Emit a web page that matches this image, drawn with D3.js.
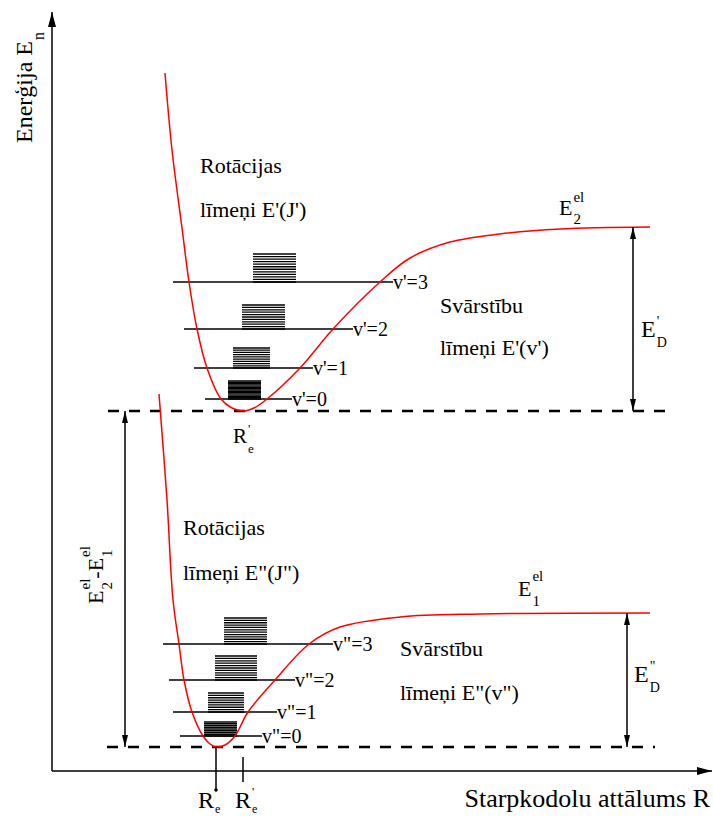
<!DOCTYPE html>
<html>
<head>
<meta charset="utf-8">
<script src="https://cdn.jsdelivr.net/npm/d3@7"></script>
</head>
<body style="margin:0;background:#fff">
<script>
// potential curves [R, E] (arbitrary units)
var upperPotential = [[2.30, 13.94], [2.44, 12.40], [2.64, 10.84], [2.78, 9.76], [2.94, 8.82],
    [3.14, 8.04], [3.42, 7.42], [3.64, 7.24], [3.86, 7.18], [4.08, 7.24], [4.34, 7.42],
    [5.00, 8.04], [5.66, 8.82], [6.60, 9.76], [7.20, 10.24], [8.00, 10.56], [9.00, 10.72],
    [10.20, 10.82], [12.00, 10.86]];
var lowerPotential = [[2.18, 7.52], [2.34, 5.40], [2.46, 3.40], [2.58, 2.52], [2.68, 1.80],
    [2.84, 1.16], [3.06, 0.68], [3.20, 0.52], [3.32, 0.46], [3.50, 0.50], [3.70, 0.68],
    [3.96, 1.16], [4.50, 1.80], [5.18, 2.52], [5.80, 2.86], [7.00, 3.06], [8.60, 3.12],
    [12.00, 3.14]];

var upperMinimum = {R: 3.86, E: 7.18};
var lowerMinimum = {R: 3.32, E: 0.46};
var upperLimit = 10.86;
var lowerLimit = 3.14;

// vibrational levels: energy and R extent of the line
var upperLevels = [{E: 7.42, r0: 3.10, r1: 4.84}, {E: 8.04, r0: 2.88, r1: 5.26},
    {E: 8.82, r0: 2.68, r1: 6.06}, {E: 9.76, r0: 2.46, r1: 6.86}];
var lowerLevels = [{E: 0.68, r0: 2.60, r1: 4.24}, {E: 1.16, r0: 2.46, r1: 4.54},
    {E: 1.80, r0: 2.38, r1: 4.90}, {E: 2.52, r0: 2.26, r1: 5.66}];
var upperLevelLabels = ["v'=0", "v'=1", "v'=2", "v'=3"];
var lowerLevelLabels = ['v"=0', 'v"=1', 'v"=2', 'v"=3'];

// rotational stacks on each vibrational level
var upperRotational = [{r0: 3.56, r1: 4.22, top: 7.78, lines: 15}, {r0: 3.66, r1: 4.40, top: 8.44, lines: 10},
    {r0: 3.84, r1: 4.70, top: 9.30, lines: 11}, {r0: 4.06, r1: 4.92, top: 10.32, lines: 12}];
var lowerRotational = [{r0: 3.08, r1: 3.74, top: 0.96, lines: 9}, {r0: 3.16, r1: 3.88, top: 1.54, lines: 9},
    {r0: 3.30, r1: 4.14, top: 2.28, lines: 11}, {r0: 3.48, r1: 4.34, top: 3.04, lines: 12}];

var serif = "'Liberation Serif', 'DejaVu Serif', 'Times New Roman', Times, serif";

function init(){
    var width = 713, height = 818;
    var svg = d3.select("body").append("svg")
        .attr("width", width)
        .attr("height", height)
        .attr("font-family", serif)
        .style("font-family", serif);

    var x = d3.scaleLinear().domain([0, 13.2]).range([50, 710]);
    var y = d3.scaleLinear().domain([0, 15.2]).range([770, 10]);

    var defs = svg.append("defs");
    defs.append("marker").attr("id", "head")
        .attr("viewBox", "0 0 12 6").attr("refX", 12).attr("refY", 3)
        .attr("markerWidth", 12).attr("markerHeight", 6)
        .attr("markerUnits", "userSpaceOnUse")
        .attr("orient", "auto-start-reverse")
        .append("path").attr("d", "M0,0 L12,3 L0,6 z").attr("fill", "#000");
    defs.append("marker").attr("id", "axhead")
        .attr("viewBox", "0 0 15 8").attr("refX", 15).attr("refY", 4)
        .attr("markerWidth", 15).attr("markerHeight", 8)
        .attr("markerUnits", "userSpaceOnUse")
        .attr("orient", "auto")
        .append("path").attr("d", "M0,0 L15,4 L0,8 z").attr("fill", "#000");

    // axes
    svg.append("line")
        .attr("x1", x(0.04)).attr("y1", y(-0.02))
        .attr("x2", x(0.04)).attr("y2", y(15.16))
        .attr("stroke", "#000").attr("stroke-width", 1.5)
        .attr("marker-end", "url(#axhead)");
    svg.append("line")
        .attr("x1", x(0.04)).attr("y1", y(-0.02))
        .attr("x2", x(13.24)).attr("y2", y(-0.02))
        .attr("stroke", "#000").attr("stroke-width", 1.5)
        .attr("marker-end", "url(#axhead)");

    // dashed minimum lines
    var dashes = [{E: upperMinimum.E, r0: 1.16, r1: 12.40}, {E: lowerMinimum.E, r0: 1.14, r1: 12.10}];
    svg.selectAll(".dash").data(dashes).enter().append("line")
        .attr("x1", function(d) { return x(d.r0); })
        .attr("x2", function(d) { return x(d.r1); })
        .attr("y1", function(d) { return y(d.E); })
        .attr("y2", function(d) { return y(d.E); })
        .attr("stroke", "#000").attr("stroke-width", 2.5)
        .attr("stroke-dasharray", "11,10");

    // vibrational levels and rotational stacks
    drawLevels(upperLevels, upperLevelLabels, upperRotational);
    drawLevels(lowerLevels, lowerLevelLabels, lowerRotational);

    function drawLevels(levels, labels, rot){
        var g = svg.append("g");
        g.selectAll("line.lev").data(levels).enter().append("line")
            .attr("x1", function(d) { return x(d.r0); })
            .attr("x2", function(d) { return x(d.r1); })
            .attr("y1", function(d) { return y(d.E); })
            .attr("y2", function(d) { return y(d.E); })
            .attr("stroke", "#000").attr("stroke-width", 1.5);
        g.selectAll("text").data(levels).enter().append("text")
            .attr("x", function(d) { return x(d.r1); })
            .attr("y", function(d) { return y(d.E) + 7; })
            .attr("font-size", 20)
            .text(function(d, i) { return labels[i]; });
        rot.forEach(function(s, i){
            var bottom = levels[i].E;
            var ticks = d3.range(s.lines).map(function(k) {
                return bottom + (s.top - bottom) * k / (s.lines - 1);
            });
            g.selectAll(null).data(ticks).enter().append("line")
                .attr("x1", x(s.r0)).attr("x2", x(s.r1))
                .attr("y1", function(d) { return y(d); })
                .attr("y2", function(d) { return y(d); })
                .attr("stroke", "#000").attr("stroke-width", 1.3);
        });
    }

    // potential curves
    var line = d3.line()
        .x(function(d) { return x(d[0]); })
        .y(function(d) { return y(d[1]); })
        .curve(d3.curveCatmullRom.alpha(0.5));
    [upperPotential, lowerPotential].forEach(function(p){
        svg.append("path").attr("d", line(p))
            .attr("fill", "none").attr("stroke", "#ff0000").attr("stroke-width", 1.5);
    });

    // double arrows
    var arrows = [{R: 11.66, a: upperLimit, b: upperMinimum.E}, {R: 11.54, a: lowerLimit, b: lowerMinimum.E},
        {R: 1.50, a: upperMinimum.E, b: lowerMinimum.E}];
    svg.selectAll(".arr").data(arrows).enter().append("line")
        .attr("x1", function(d) { return x(d.R); })
        .attr("x2", function(d) { return x(d.R); })
        .attr("y1", function(d) { return y(d.a); })
        .attr("y2", function(d) { return y(d.b); })
        .attr("stroke", "#000").attr("stroke-width", 1.5)
        .attr("marker-start", "url(#head)").attr("marker-end", "url(#head)");

    // R_e marks below the axis
    svg.append("line").attr("x1", x(lowerMinimum.R)).attr("x2", x(lowerMinimum.R))
        .attr("y1", y(lowerMinimum.E)).attr("y2", y(-0.4))
        .attr("stroke", "#000").attr("stroke-width", 1.5);
    svg.append("circle").attr("cx", x(lowerMinimum.R)).attr("cy", y(-0.4)).attr("r", 1.8);
    svg.append("line").attr("x1", x(upperMinimum.R)).attr("x2", x(upperMinimum.R))
        .attr("y1", y(0.26)).attr("y2", y(-0.24))
        .attr("stroke", "#000").attr("stroke-width", 1.5);

    // plain labels
    var labels = [
        {t: "Rotācijas", R: 3.00, E: 11.94}, {t: "līmeņi E'(J')", R: 3.00, E: 11.06},
        {t: "Rotācijas", R: 2.66, E: 4.70}, {t: "līmeņi E\"(J\")", R: 2.66, E: 3.80},
        {t: "Svārstību", R: 7.80, E: 9.14}, {t: "līmeņi E'(v')", R: 7.80, E: 8.30},
        {t: "Svārstību", R: 7.00, E: 2.28}, {t: "līmeņi E\"(v\")", R: 7.00, E: 1.40}
    ];
    svg.selectAll(".lab").data(labels).enter().append("text")
        .attr("x", function(d) { return x(d.R); })
        .attr("y", function(d) { return y(d.E); })
        .attr("font-size", 22)
        .text(function(d) { return d.t; });

    svg.append("text").attr("x", x(13.2)).attr("y", y(-0.74))
        .attr("text-anchor", "end").attr("font-size", 26)
        .text("Starpkodolu attālums R");

    // labels with indices
    function scriptLabel(g, px, py, base, sup, sub, size, small, supDy, subDy){
        var t = g.append("text").attr("x", px).attr("y", py).attr("font-size", size).text(base);
        var w = t.node().getComputedTextLength();
        var end = px + w;
        if (sup) {
            var s = g.append("text").attr("x", px + w + 1).attr("y", py - supDy)
                .attr("font-size", small).text(sup);
            end = Math.max(end, px + w + 1 + s.node().getComputedTextLength());
        }
        if (sub) {
            var b = g.append("text").attr("x", px + w + 1).attr("y", py + subDy)
                .attr("font-size", small).text(sub);
            end = Math.max(end, px + w + 1 + b.node().getComputedTextLength());
        }
        return end;
    }

    scriptLabel(svg, x(10.18), y(11.10), "E", "el", "2", 22, 15, 13, 9);
    scriptLabel(svg, x(9.36), y(3.48), "E", "el", "1", 22, 15, 15, 10);
    scriptLabel(svg, x(11.82), y(8.66), "E", "'", "D", 24, 14, 11, 10);
    scriptLabel(svg, x(11.68), y(1.76), "E", "\"", "D", 24, 14, 11, 10);
    scriptLabel(svg, x(3.66), y(6.54), "R", "'", "e", 21, 13, 10, 10);
    scriptLabel(svg, x(2.96), y(-0.76), "R", null, "e", 24, 12, 0, 5);
    scriptLabel(svg, x(3.70), y(-0.76), "R", "'", "e", 24, 12, 12, 5);

    // rotated labels
    var gy = svg.append("g").attr("transform", "translate(" + x(-0.36) + "," + y(12.54) + ") rotate(-90)");
    scriptLabel(gy, 0, 0, "Enerģija E", null, "n", 24, 16, 0, 12);

    var gd = svg.append("g").attr("transform", "translate(" + x(1.06) + "," + y(3.90) + ") rotate(-90)");
    var e1 = scriptLabel(gd, 0, 0, "E", "el", "2", 22, 15, 13, 9);
    var e2 = scriptLabel(gd, e1, 0, "-E", "el", "1", 22, 15, 13, 9);
    gd.attr("transform", "translate(" + x(1.06) + "," + (y(3.90) + e2 / 2) + ") rotate(-90)");
}

window.onload = init;
</script>
</body>
</html>
